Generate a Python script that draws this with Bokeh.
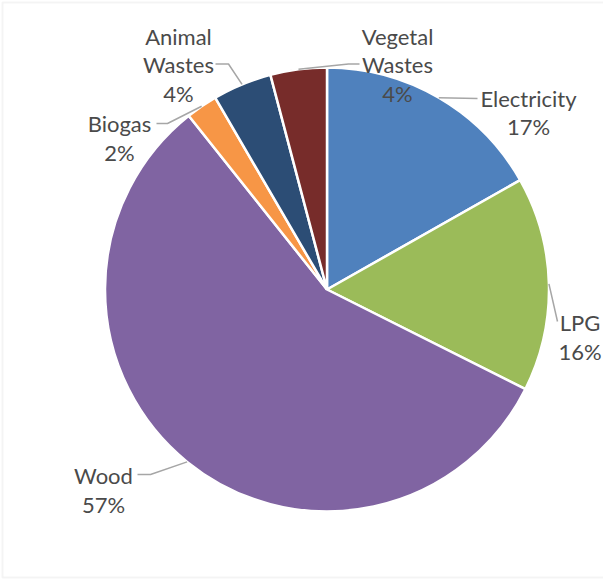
import numpy as np
from bokeh.plotting import figure
from bokeh.models import Range1d, ColumnDataSource, BoxAnnotation
from bokeh.embed import file_html
from bokeh.resources import INLINE
from bokeh.core.properties import value

# ---- data ----
categories = ["Electricity", "LPG", "Wood", "Biogas", "Animal Wastes", "Vegetal Wastes"]
shares = [16.8, 15.6, 56.9, 2.3, 4.3, 4.1]
colors = ["#4F81BD", "#9BBB59", "#8064A2", "#F79646", "#2C4D75", "#772C2A"]

# ---- layout (image pixel coordinates, y downward) ----
W, H = 603, 580
CX, CY, R = 326.5, 289.0, 222.0
label_anchor = [(528, 97.5), (579.5, 322), (103, 475), (119, 123.3), (178, 35.5), (397, 35.5)]
leader_tail = [
    [(477, 98)],
    [(557, 321)],
    [(150, 474), (137, 474)],
    [(167, 123), (156, 123)],
    [(228, 63.5), (215, 63.5)],
    [(348, 63.5), (359, 63.5)],
]
LINE_STEP = 28.7
FONT = "Lato"
FONT_SIZE = "22px"
TEXT_COLOR = "#4A4A4A"


def yu(y):
    return H - y


fr = np.array(shares, dtype=float) / float(sum(shares))
cum = np.concatenate([[0.0], np.cumsum(fr)])
start = np.pi / 2 - 2 * np.pi * cum[:-1]
end = np.pi / 2 - 2 * np.pi * cum[1:]
mid = (start + end) / 2

p = figure(width=W, height=H, output_backend="svg", toolbar_location=None,
           x_axis_location=None, y_axis_location=None,
           x_range=Range1d(0, W), y_range=Range1d(0, H),
           min_border=0)
p.grid.visible = False
p.outline_line_color = None
p.background_fill_color = "white"
p.border_fill_color = "white"

# chart-area border (left, top, bottom; right edge falls outside the window)
p.add_layout(BoxAnnotation(left=2, right=W + 20, bottom=yu(577), top=yu(2),
                           fill_color=None, line_color="#D9D9D9", line_width=2))

src = ColumnDataSource(dict(cat=categories, start=start, end=end, color=colors))
p.wedge(x=CX, y=yu(CY), radius=R, start_angle="start", end_angle="end",
        direction="clock", fill_color="color", line_color="white", line_width=2.5, source=src)

# leader lines: from the arc at each slice's mid-angle to its label
xs, ys = [], []
for i in range(len(categories)):
    x0 = CX + R * np.cos(mid[i])
    y0 = yu(CY) + R * np.sin(mid[i])
    px = [x0] + [pt[0] for pt in leader_tail[i]]
    py = [y0] + [yu(pt[1]) for pt in leader_tail[i]]
    xs.append(px)
    ys.append(py)
p.multi_line(xs=xs, ys=ys, line_color="#A6A6A6", line_width=1.5)

# labels
tx, ty, tt = [], [], []
for i, cat in enumerate(categories):
    lines = cat.split(" ") + ["%d%%" % round(shares[i])]
    ax, ay = label_anchor[i]
    for k, ln in enumerate(lines):
        tx.append(ax)
        ty.append(yu(ay + k * LINE_STEP))
        tt.append(ln)
p.text(x=tx, y=ty, text=tt, text_align="center", text_baseline="alphabetic",
       text_font=value(FONT), text_font_size=FONT_SIZE, text_color=TEXT_COLOR)

open("out.html", "w").write(file_html(p, INLINE))
